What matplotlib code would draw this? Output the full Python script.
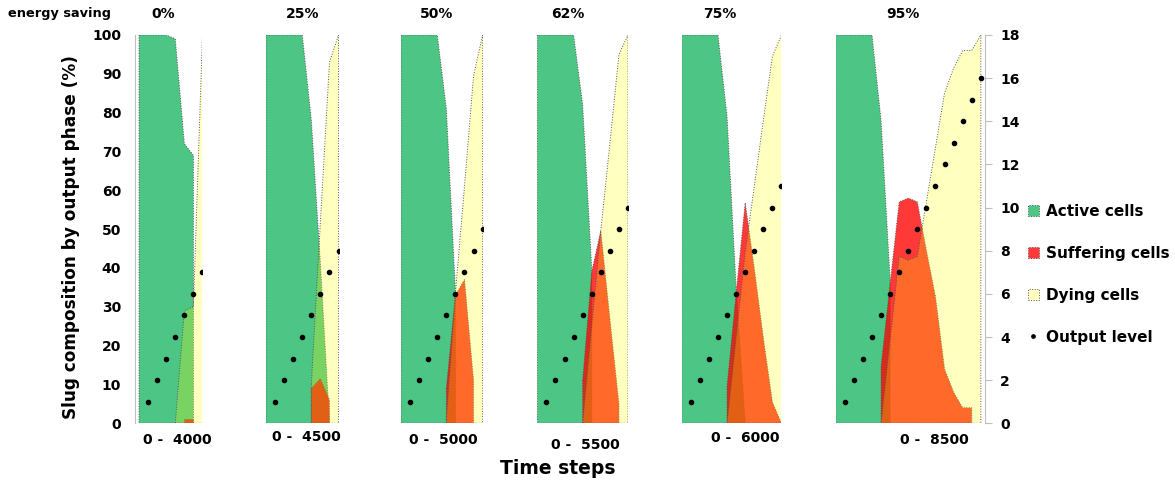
import matplotlib
matplotlib.use('Agg')
import matplotlib.pyplot as plt
import numpy as np
from matplotlib.patches import Patch
from matplotlib.lines import Line2D

plt.rcParams['font.family'] = ['DejaVu Sans']
plt.rcParams['font.weight'] = 'bold'

# ---------------- data ----------------
savings = ['0%', '25%', '50%', '62%', '75%', '95%']
time_ranges = ['0 -  4000', '0 -  4500', '0 -  5000', '0 -  5500', '0 -  6000', '0 -  8500']
n_levels = [7, 8, 9, 10, 11, 16]          # output levels reached (dots 1..n)

# Active cells (%) : values from step 0
active_0 = [100, 100, 100, 100, 99, 72, 69]
active_25 = [100, 100, 100, 100, 100, 78, 41, 0]
active_50 = [100, 100, 100, 100, 100, 81, 34]
active_62 = [100, 100, 100, 100, 100, 82, 40]
active_75 = [100, 100, 100, 100, 100, 79, 35, 0]
active_95 = [100, 100, 100, 100, 100, 78, 37]

# Suffering cells (%) : first step and values
suffering_start = [5, 5, 5, 5, 5, 5]
suffering_0 = [1, 1]
suffering_25 = [9, 11.5, 6]
suffering_50 = [9, 33, 37, 11]
suffering_62 = [11, 39, 49.6, 27, 5]
suffering_75 = [9.5, 33.5, 56.8, 40, 22, 5.5, 0]
suffering_95 = [14.6, 36, 57, 58, 57, 44.5, 32.6, 14, 8, 4, 4]

# Dying cells (%) : first step and values
dying_start = [4, 5, 5, 5, 5, 5]
dying_0 = [0, 29, 30, 100]
dying_25 = [10, 52, 93, 100]
dying_50 = [1, 33.5, 61, 89.5, 100]
dying_62 = [0, 25, 49.6, 72, 95, 100]
dying_75 = [0, 22, 44, 61, 78, 94.5, 100]
dying_95 = [0, 21.5, 43, 42, 43, 57, 71, 85, 91.5, 96, 96, 100]

active = [active_0, active_25, active_50, active_62, active_75, active_95]
suffering = [suffering_0, suffering_25, suffering_50, suffering_62, suffering_75, suffering_95]
dying = [dying_0, dying_25, dying_50, dying_62, dying_75, dying_95]

# ---------------- style ----------------
C_ACTIVE = '#4CC585'
C_SUFFER = (1.0, 0.0, 0.0, 0.78)
C_DYING = (1.0, 1.0, 0.0, 0.25)
EDGE = '#555555'
AXIS_GREY = '#BFBFBF'

W, H = 1175, 486
fig = plt.figure(figsize=(W / 100, H / 100), dpi=100)

step_px = 9.07
x0_px = [139, 266, 401, 537.3, 681.7, 835.7]
bottom_px, top_px = 423.3, 35.0
title_x = [163, 303, 437, 568, 720, 903]
range_x = [177, 306, 443, 585, 745, 934]
range_y = [440, 437, 440, 445, 438, 440]


def area(ax, start, vals, color):
    x = np.arange(start, start + len(vals))
    ax.fill_between(x, 0, vals, facecolor=color, edgecolor=EDGE,
                    linestyle=':', linewidth=0.7)


for i in range(6):
    n = n_levels[i]
    pad_l = 4.0 if i == 0 else 0.0
    pad_r = 4.0 if i == 5 else 0.0
    left = x0_px[i] - pad_l
    right = x0_px[i] + n * step_px + pad_r
    ax = fig.add_axes([left / W, (H - bottom_px) / H,
                       (right - left) / W, (bottom_px - top_px) / H])
    ax.set_xlim(-pad_l / step_px, n + pad_r / step_px)
    ax.set_ylim(0, 100)
    ax.patch.set_alpha(0)
    for s in ax.spines.values():
        s.set_visible(False)
    ax.set_xticks([])
    if i == 0:
        ax.spines['left'].set_visible(True)
        ax.spines['left'].set_color(AXIS_GREY)
        ax.set_yticks(np.arange(0, 101, 10))
        ax.tick_params(axis='y', length=0, pad=10, labelsize=10)
    else:
        ax.set_yticks([])

    area(ax, 0, active[i], C_ACTIVE)
    area(ax, suffering_start[i], suffering[i], C_SUFFER)
    area(ax, dying_start[i], dying[i], C_DYING)

    ax2 = ax.twinx()
    ax2.set_ylim(0, 18)
    for s in ax2.spines.values():
        s.set_visible(False)
    levels = np.arange(1, n + 1)
    ax2.plot(levels, levels, linestyle='none', marker='o', markersize=3.0,
             color='black', zorder=5)
    if i == 5:
        ax2.spines['right'].set_visible(True)
        ax2.spines['right'].set_color(AXIS_GREY)
        ax2.set_yticks(np.arange(0, 19, 2))
        ax2.tick_params(axis='y', length=5, color=AXIS_GREY, pad=6, labelsize=10)
    else:
        ax2.set_yticks([])

    fig.text(title_x[i] / W, 1 - 14 / H, savings[i], ha='center', va='center',
             fontsize=10, fontweight='bold')
    fig.text(range_x[i] / W, 1 - range_y[i] / H, time_ranges[i], ha='center',
             va='center', fontsize=10, fontweight='bold')

fig.text(71 / W, 1 - 237 / H, 'Slug composition by output phase (%)',
         rotation=90, ha='center', va='center', fontsize=12.2, fontweight='bold')
fig.text(8 / W, 1 - 13 / H, 'energy saving', ha='left', va='center',
         fontsize=9.3, fontweight='bold')
fig.text(558 / W, 1 - 468 / H, 'Time steps', ha='center', va='center',
         fontsize=13.5, fontweight='bold')

handles = [
    Patch(facecolor=C_ACTIVE, edgecolor=EDGE, linestyle=':', linewidth=0.7),
    Patch(facecolor=C_SUFFER, edgecolor=EDGE, linestyle=':', linewidth=0.7),
    Patch(facecolor=C_DYING, edgecolor=EDGE, linestyle=':', linewidth=0.7),
    Line2D([], [], linestyle='none', marker='o', markersize=2.4, color='black'),
]
labels = ['Active cells', 'Suffering cells', 'Dying cells', 'Output level']
fig.legend(handles, labels, loc='upper left',
           bbox_to_anchor=(1028 / W, 1 - 204 / H), frameon=False,
           handlelength=0.7, handleheight=0.7, handletextpad=0.5,
           labelspacing=1.76, borderaxespad=0, borderpad=0,
           prop={'weight': 'bold', 'size': 11})

fig.savefig('out.png', dpi=100)
